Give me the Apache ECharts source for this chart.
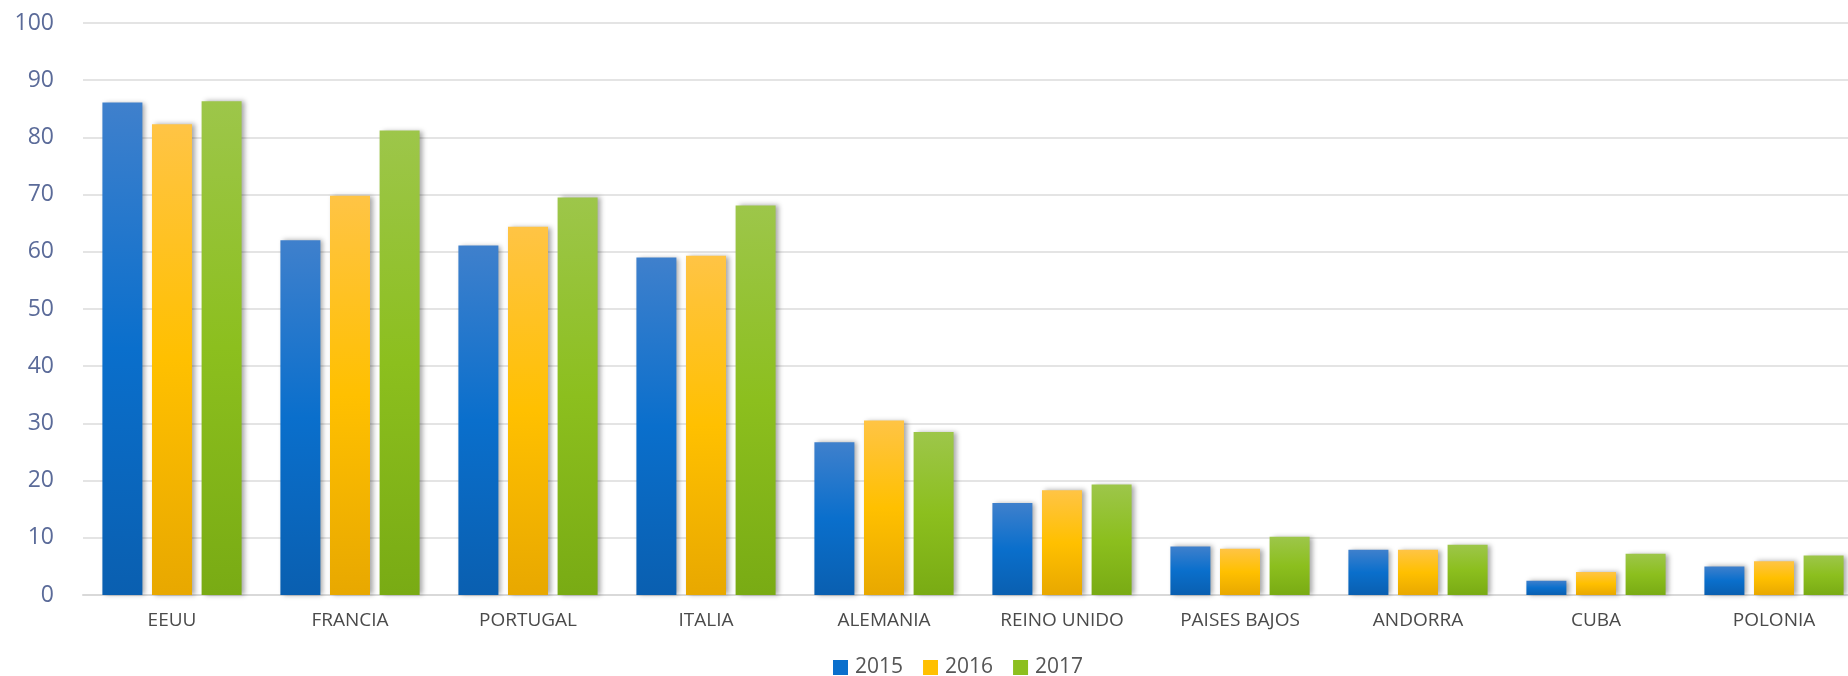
<!DOCTYPE html>
<html>
<head>
<meta charset="utf-8">
<script src="https://cdn.jsdelivr.net/npm/echarts@6/dist/echarts.min.js"></script>
<style>
html,body{margin:0;padding:0;background:#fff;}
#chart{width:1848px;height:676px;}
</style>
</head>
<body>
<div id="chart"></div>
<script>
const categories = ['EEUU','FRANCIA','PORTUGAL','ITALIA','ALEMANIA','REINO UNIDO','PAISES BAJOS','ANDORRA','CUBA','POLONIA'];
const seriesNames = ['2015','2016','2017'];
const values2015 = [86.1, 62.0, 61.1, 59.0, 26.7, 16.1, 8.5, 7.9, 2.5, 5.0];
const values2016 = [82.3, 69.8, 64.4, 59.3, 30.5, 18.3, 8.1, 7.9, 4.0, 5.9];
const values2017 = [86.3, 81.2, 69.5, 68.1, 28.5, 19.3, 10.2, 8.8, 7.2, 6.9];

function grad(top, mid, bottom){
  return new echarts.graphic.LinearGradient(0,0,0,1,[
    {offset:0,color:top},{offset:0.5,color:mid},{offset:1,color:bottom}
  ]);
}
const styles = [
  {legend:'#0a6fcc', fill:grad('#3f80cc','#0a6fcc','#0a5fb0')},
  {legend:'#ffc000', fill:grad('#ffc445','#ffc000','#e8a800')},
  {legend:'#8cbf1e', fill:grad('#9dc64a','#8cbf1e','#79ab14')}
];
const data = [values2015, values2016, values2017];

const chart = echarts.init(document.getElementById('chart'));
chart.setOption({
  animation:false,
  backgroundColor:'#fff',
  textStyle:{fontFamily:'"Open Sans", sans-serif'},
  grid:{left:83,width:1780,top:23,bottom:81,containLabel:false,outerBoundsMode:'none'},
  legend:{
    left:828, top:652, itemWidth:15, itemHeight:15, itemGap:20,
    icon:'rect',
    textStyle:{fontSize:21,color:'#555',padding:[0,0,0,2]},
    data:seriesNames.map((n,i)=>({name:n,itemStyle:{color:styles[i].legend}}))
  },
  xAxis:{
    type:'category', data:categories,
    axisLine:{lineStyle:{color:'#d9d9d9',width:2}},
    axisTick:{show:false},
    axisLabel:{fontSize:19,color:'#4a4a4a',margin:16}
  },
  yAxis:{
    type:'value', min:0, max:100, interval:10,
    axisLine:{show:false}, axisTick:{show:false},
    axisLabel:{fontSize:23,color:'#5b6b99',margin:29},
    splitLine:{lineStyle:{color:'#e4e4e4',width:2}}
  },
  series: data.map((d,i)=>({
    name:seriesNames[i], type:'bar', data:d,
    barWidth:40, barGap:'24%',
    itemStyle:{
      color:styles[i].fill,
      shadowColor:'rgba(0,0,0,0.35)', shadowBlur:5, shadowOffsetX:3, shadowOffsetY:0
    }
  }))
});
</script>
</body>
</html>
